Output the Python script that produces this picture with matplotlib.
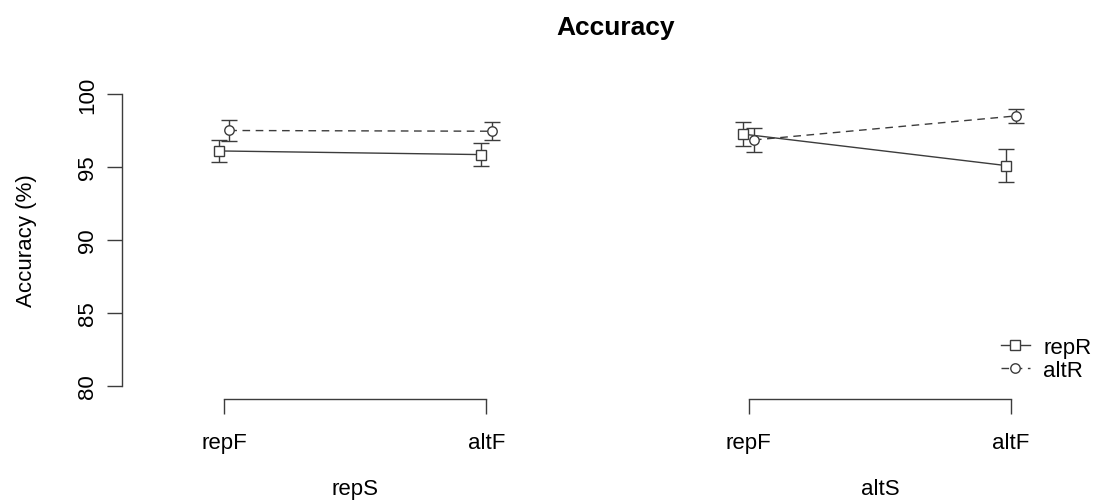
import numpy as np
import matplotlib
matplotlib.use('Agg')
import matplotlib.pyplot as plt
import matplotlib.transforms as mtransforms

plt.rcParams['font.family'] = ['Liberation Sans', 'DejaVu Sans']

# --- données ---
groups_S = ['repS', 'altS']
levels_F = ['repF', 'altF']
series = ['repR', 'altR']

repR_mean = [96.1, 95.85, 97.25, 95.1]
repR_err = [0.75, 0.8, 0.8, 1.1]
altR_mean = [97.5, 97.45, 96.85, 98.5]
altR_err = [0.75, 0.6, 0.8, 0.5]

y_ticks = [80, 85, 90, 95, 100]

col = '#3c3c3c'
W, H = 1107, 502
fig = plt.figure(figsize=(W / 100, H / 100), dpi=100)
ax = fig.add_axes([122 / W, 102 / H, (W - 122) / W, 318 / H])

pos = np.arange(len(groups_S) * len(levels_F))
dodge = 0.02
styles = {
    'repR': dict(marker='s', ls='-'),
    'altR': dict(marker='o', ls=(0, (5.5, 4))),
}
means = {'repR': repR_mean, 'altR': altR_mean}
errs = {'repR': repR_err, 'altR': altR_err}
offs = {'repR': -dodge, 'altR': dodge}

handles = []
for s in series:
    x = pos + offs[s]
    m = np.array(means[s])
    e = np.array(errs[s])
    ax.errorbar(x, m, yerr=e, fmt='none', ecolor=col, elinewidth=1.0,
                capsize=5.5, capthick=1.0)
    # une ligne par groupe S
    for g in range(len(groups_S)):
        sl = slice(2 * g, 2 * g + 2)
        h, = ax.plot(x[sl], m[sl], color=col, lw=1.0, ls=styles[s]['ls'],
                     marker=styles[s]['marker'], ms=6.8, mfc='white',
                     mec=col, mew=1.0)
    handles.append(h)

ax.set_xlim(-0.389, 3.366)
ax.set_ylim(79.11, 100.89)

# axes style R
for sp in ['top', 'right', 'bottom']:
    ax.spines[sp].set_visible(False)
ax.spines['left'].set_bounds(80, 100)
ax.spines['left'].set_color(col)
ax.spines['left'].set_linewidth(1.0)

ax.set_yticks(y_ticks)
ax.set_yticklabels([str(t) for t in y_ticks], rotation=90, va='center')
ax.tick_params(axis='y', length=11, width=1.0, color=col, labelsize=16,
               pad=6)

ax.set_xticks(pos)
ax.set_xticklabels(levels_F * len(groups_S))
ax.tick_params(axis='x', length=11, width=1.0, color=col, labelsize=16,
               pad=13)

# crochets de l'axe x
trans = ax.get_xaxis_transform()
tr2 = mtransforms.blended_transform_factory(ax.transData, fig.transFigure)
for g in range(len(groups_S)):
    ax.plot([pos[2 * g], pos[2 * g + 1]], [0, 0], color=col, lw=1.0,
            transform=trans, clip_on=False)
    ax.text(pos[2 * g:2 * g + 2].mean(), 12 / H, groups_S[g],
            transform=tr2, ha='center', va='center', fontsize=16)

ax.set_ylabel('Accuracy (%)', fontsize=16)
ax.yaxis.set_label_coords(-0.0863, 0.5)

fig.text(616 / W, (H - 28) / H, 'Accuracy', ha='center', va='center',
         fontsize=19, fontweight='bold')

ax.legend(handles, series, loc='center left', frameon=False,
          bbox_to_anchor=(1001 / W, (H - 360) / H),
          bbox_transform=fig.transFigure, fontsize=16, borderpad=0,
          borderaxespad=0, handlelength=1.3, handletextpad=0.6,
          labelspacing=0.1, numpoints=1)

plt.savefig('out.png', dpi=100)
